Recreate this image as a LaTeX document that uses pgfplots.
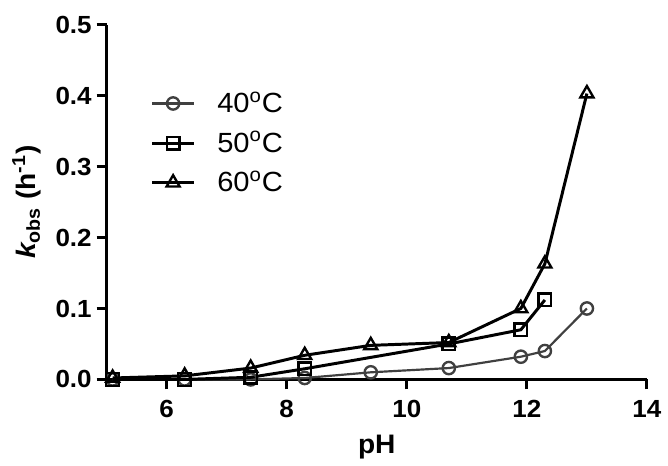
\documentclass[border=0pt]{standalone}
\usepackage{pgfplots}
\pgfplotsset{compat=1.18}
\usepackage{fontspec}
\setmainfont{Liberation Sans}[FakeStretch=1.05]
\begin{document}
\begin{tikzpicture}
\begin{axis}[
  scale only axis,
  width=272.7pt, height=179pt,
  xmin=5, xmax=14, ymin=0, ymax=0.5,
  clip=false,
  axis lines=left,
  axis line style={-, line width=1.5pt, black},
  tick align=outside,
  major tick length=5pt,
  tick style={line width=1.5pt, black},
  xtick={6,8,10,12,14},
  ytick={0,0.1,0.2,0.3,0.4,0.5},
  /pgf/number format/assume math mode=true,
  ticklabel style={font=\fontsize{12.5}{14}\selectfont\bfseries},
  xticklabel style={yshift=-2pt},
  yticklabel style={xshift=1pt, /pgf/number format/fixed, /pgf/number format/fixed zerofill, /pgf/number format/precision=1},
  xlabel={\bfseries pH},
  xlabel style={font=\fontsize{13.5}{15}\selectfont, at={(rel axis cs:0.5,-0.19)}, anchor=center},
  ylabel={\bfseries\itshape k\textsubscript{\upshape obs}\upshape\ (h\textsuperscript{-1})},
  ylabel style={font=\fontsize{13.5}{15}\selectfont, at={(rel axis cs:-0.148,0.5)}, anchor=center},
  legend style={draw=none, fill=none, at={(rel axis cs:0.07,0.835)}, anchor=north west,
    font=\fontsize{14}{16}\selectfont, row sep=4pt, /tikz/column 1/.style={column sep=9pt}},
  legend cell align=left,
  legend image code/.code={\draw[mark repeat=2,mark phase=2] plot coordinates {(0cm,0cm) (0.37cm,0cm) (0.74cm,0cm)};},
]
\addplot[color=black!75, line width=1.1pt, mark=o, mark size=3.1pt, mark options={fill=white, line width=1.2pt}]
coordinates {(5.1,0.0) (6.3,0.0) (7.4,0.0) (8.3,0.002) (9.4,0.01) (10.7,0.016) (11.9,0.032) (12.3,0.04) (13.0,0.100)};
\addlegendentry{40\textsuperscript{o}C}
\addplot[color=black, line width=1.5pt, mark=square, mark size=3.2pt, mark options={fill=white, line width=1.2pt}]
coordinates {(5.1,0.0) (6.3,0.0) (7.4,0.003) (8.3,0.015) (10.7,0.05) (11.9,0.07) (12.3,0.112)};
\addlegendentry{50\textsuperscript{o}C}
\addplot[color=black, line width=1.5pt, mark=triangle, mark size=3.8pt, mark options={fill=white, line width=1.2pt}]
coordinates {(5.1,0.002) (6.3,0.005) (7.4,0.016) (8.3,0.034) (9.4,0.048) (10.7,0.052) (11.9,0.100) (12.3,0.163) (13.0,0.403)};
\addlegendentry{60\textsuperscript{o}C}
\path[draw=none] (rel axis cs:-0.1973,-0.243) rectangle (rel axis cs:1.0275,1.0698);
\end{axis}
\end{tikzpicture}
\end{document}
